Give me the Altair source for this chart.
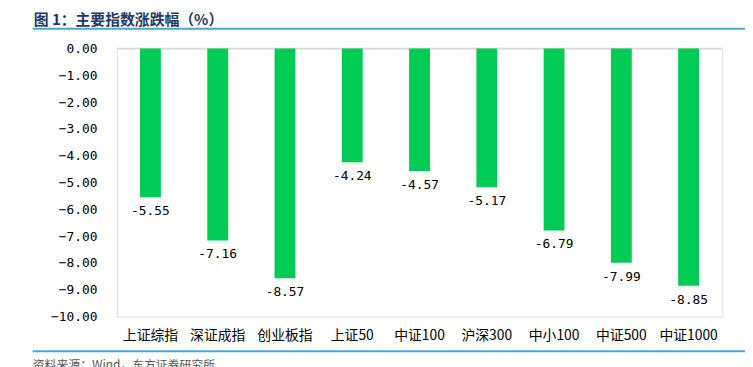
import altair as alt
import pandas as pd

categories = ["上证综指", "深证成指", "创业板指", "上证50", "中证100", "沪深300", "中小100", "中证500", "中证1000"]
values = [-5.55, -7.16, -8.57, -4.24, -4.57, -5.17, -6.79, -7.99, -8.85]
y_ticks = [0, -1, -2, -3, -4, -5, -6, -7, -8, -9, -10]
title_text = "图 1：主要指数涨跌幅（%）"
source_text = "资料来源：Wind，东方证券研究所"

df = pd.DataFrame({"cat": categories, "val": values})
df["lab"] = df["val"].map(lambda v: f"{v:.2f}")
df["z"] = 0

W, H = 612, 271
CJK = "Noto Sans CJK SC"
MONO = "DejaVu Sans Mono"

yscale = alt.Scale(domain=[-10, 0], nice=False, zero=True)
xscale = alt.Scale(paddingInner=0.69, paddingOuter=0.345)
xaxis = alt.Axis(domain=False, ticks=False, labelAngle=0, labelFont=CJK,
                 labelFontSize=14, labelColor="#000", labelPadding=12)
yaxis = alt.Axis(values=y_ticks, format=".2f", domain=False, ticks=False, grid=False,
                 labelOverlap=False, labelFlush=False,
                 labelFont=MONO, labelFontSize=13, labelColor="#000", labelPadding=20)
x = alt.X("cat:N", sort=categories, title=None, scale=xscale, axis=xaxis)
y = alt.Y("val:Q", title=None, scale=yscale, axis=yaxis)

base = alt.Chart(df)
bars = base.mark_bar(color="#00CC55").encode(x=x, y=y, y2="z:Q")
labels = base.mark_text(baseline="top", dy=8, font=MONO, fontSize=13, color="#000").encode(
    x=x, y=y, text="lab:N")

title = alt.Chart(pd.DataFrame({"t": [title_text]})).mark_text(
    align="left", baseline="middle", font=CJK, fontSize=15, fontWeight="bold", color="#1F3864"
).encode(x=alt.value(-84), y=alt.value(-29), text="t:N")
zero = alt.Chart(pd.DataFrame({"a": [0]})).mark_rule(color="#d9d9d9", strokeWidth=1.5).encode(
    x=alt.value(0), x2=alt.value(W), y=alt.value(0))
line_top = alt.Chart(pd.DataFrame({"a": [0]})).mark_rule(color="#3FA9E0", strokeWidth=2).encode(
    x=alt.value(-85), x2=alt.value(700), y=alt.value(-20))
line_bot = alt.Chart(pd.DataFrame({"a": [0]})).mark_rule(color="#3FA9E0", strokeWidth=2).encode(
    x=alt.value(-85), x2=alt.value(700), y=alt.value(306))
source = alt.Chart(pd.DataFrame({"t": [source_text]})).mark_text(
    align="left", baseline="top", font=CJK, fontSize=12, color="#555"
).encode(x=alt.value(-85), y=alt.value(315), text="t:N")

chart = alt.layer(zero, bars, labels, title, line_top, line_bot, source).properties(
    width=W, height=H,
    autosize=alt.AutoSizeParams(type="none"),
    padding={"left": 110, "top": 39, "right": 23, "bottom": 60},
).configure_view(strokeWidth=0).configure(background="white")

chart.save("out.html", embed_options={"renderer": "svg", "actions": False})
